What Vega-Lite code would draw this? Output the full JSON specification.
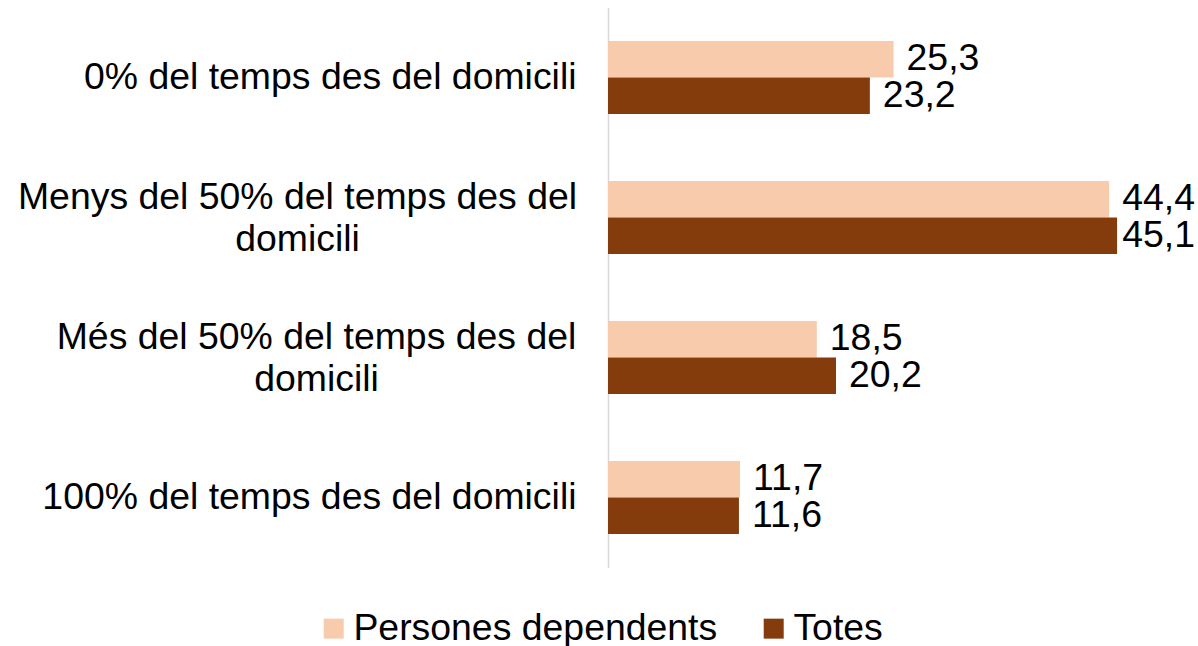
{
  "$schema": "https://vega.github.io/schema/vega-lite/v6.json",
  "autosize": {"type": "none"},
  "padding": {"left": 608, "top": 7.5, "right": 0, "bottom": 78.5},
  "width": 590,
  "height": 560,
  "background": "white",
  "config": {
    "view": {"stroke": null},
    "font": "Liberation Sans",
    "locale": {"number": {"decimal": ",", "thousands": ".", "grouping": [3], "currency": ["", " €"]}}
  },
  "data": {
    "values": [
      {"categoria": "0% del temps des del domicili", "serie": "Persones dependents", "valor": 25.3},
      {"categoria": "0% del temps des del domicili", "serie": "Totes", "valor": 23.2},
      {"categoria": "Menys del 50% del temps des del domicili", "serie": "Persones dependents", "valor": 44.4},
      {"categoria": "Menys del 50% del temps des del domicili", "serie": "Totes", "valor": 45.1},
      {"categoria": "Més del 50% del temps des del domicili", "serie": "Persones dependents", "valor": 18.5},
      {"categoria": "Més del 50% del temps des del domicili", "serie": "Totes", "valor": 20.2},
      {"categoria": "100% del temps des del domicili", "serie": "Persones dependents", "valor": 11.7},
      {"categoria": "100% del temps des del domicili", "serie": "Totes", "valor": 11.6}
    ]
  },
  "encoding": {
    "y": {
      "field": "categoria",
      "type": "nominal",
      "sort": ["0% del temps des del domicili", "Menys del 50% del temps des del domicili", "Més del 50% del temps des del domicili", "100% del temps des del domicili"],
      "scale": {"paddingInner": 0.48, "paddingOuter": 0.24},
      "axis": {
        "title": null,
        "ticks": false,
        "domain": true,
        "domainColor": "#d9d9d9",
        "domainWidth": 1.5,
        "labelFontSize": 37.4,
        "labelColor": "#000000",
        "labelLimit": 0,
        "labelLineHeight": 42,
        "labelAlign": {"condition": {"test": "indexof(datum.value, 'del 50%') >= 0", "value": "center"}, "value": "right"},
        "labelOffset": {"condition": {"test": "indexof(datum.value, 'del 50%') >= 0", "value": -20}, "value": 0},
        "labelPadding": {
          "condition": [
            {"test": "datum.value === 'Menys del 50% del temps des del domicili'", "value": 311},
            {"test": "datum.value === 'Més del 50% del temps des del domicili'", "value": 292}
          ],
          "value": 32
        },
        "labelExpr": "datum.label == 'Menys del 50% del temps des del domicili' ? ['Menys del 50% del temps des del', 'domicili'] : datum.label == 'Més del 50% del temps des del domicili' ? ['Més del 50% del temps des del', 'domicili'] : datum.label"
      }
    },
    "yOffset": {
      "field": "serie",
      "type": "nominal",
      "sort": ["Persones dependents", "Totes"],
      "scale": {"paddingInner": 0, "paddingOuter": 0}
    }
  },
  "layer": [
    {
      "mark": {"type": "bar"},
      "encoding": {
        "x": {
          "field": "valor",
          "type": "quantitative",
          "scale": {"domain": [0, 52.27], "nice": false, "zero": true},
          "axis": null
        },
        "color": {
          "field": "serie",
          "type": "nominal",
          "sort": ["Persones dependents", "Totes"],
          "scale": {"domain": ["Persones dependents", "Totes"], "range": ["#F8CBAD", "#843C0C"]},
          "legend": {
            "title": null,
            "orient": "none",
            "direction": "horizontal",
            "legendX": -293,
            "legendY": 602,
            "padding": 0,
            "symbolType": "square",
            "symbolSize": 400,
            "symbolStrokeWidth": 0,
            "labelFontSize": 37.4,
            "labelColor": "#000000",
            "labelOffset": 1,
            "columnPadding": 37,
            "labelLimit": 0
          }
        }
      }
    },
    {
      "mark": {"type": "text", "align": "left", "baseline": "middle", "dx": 13, "fontSize": 37.4, "color": "#000000"},
      "encoding": {
        "x": {
          "field": "valor",
          "type": "quantitative",
          "scale": {"domain": [0, 44.4], "range": [0, 501.17], "nice": false, "zero": true, "clamp": true},
          "axis": null
        },
        "text": {"field": "valor", "type": "quantitative", "format": ".1f"}
      }
    }
  ],
  "resolve": {"scale": {"x": "independent"}}
}
